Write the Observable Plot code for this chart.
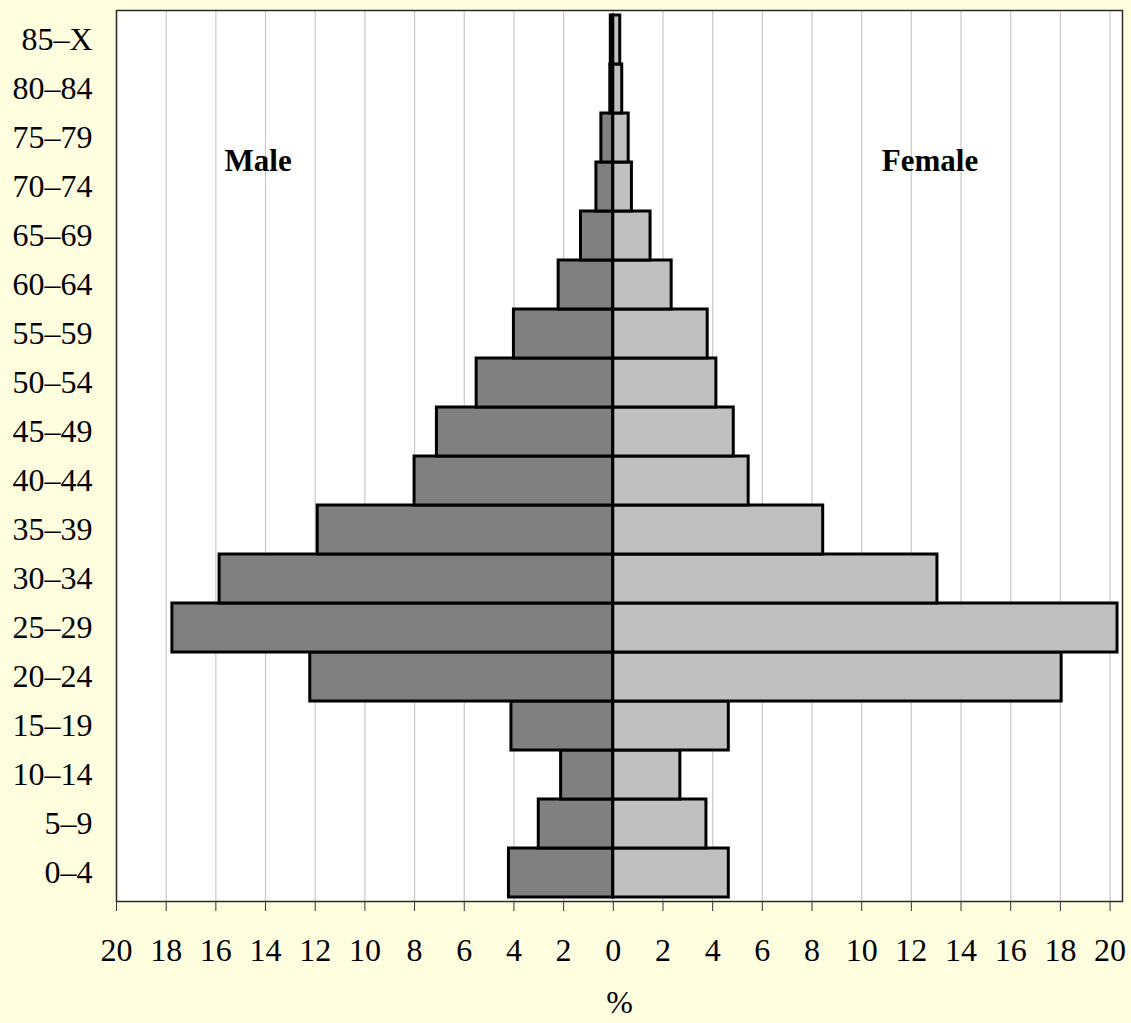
<!DOCTYPE html>
<html><head><meta charset="utf-8">
<script src="https://cdn.jsdelivr.net/npm/d3@7"></script>
<script src="https://cdn.jsdelivr.net/npm/@observablehq/plot@0.6"></script>
<style>html,body{margin:0;padding:0;background:#FFFFE0;}</style>
</head><body><div id="chart"></div>
<script>
const ageGroups = ["0–4","5–9","10–14","15–19","20–24","25–29","30–34","35–39","40–44","45–49","50–54","55–59","60–64","65–69","70–74","75–79","80–84","85–X"];
const male   = [4.2, 3.0, 2.1, 4.1, 12.2, 17.75, 15.85, 11.9, 8.0, 7.1, 5.5, 4.0, 2.2, 1.3, 0.68, 0.48, 0.12, 0.1];
const female = [4.65, 3.75, 2.7, 4.65, 18.05, 20.3, 13.05, 8.45, 5.45, 4.85, 4.15, 3.8, 2.35, 1.5, 0.75, 0.62, 0.36, 0.28];
const xTicks = d3.range(-20, 21, 2);
const sexes = ["Male", "Female"];
const sexColors = ["#808080", "#C0C0C0"];

const data = ageGroups.flatMap((a, i) => [
  {age: a, sex: "Male", value: -male[i]},
  {age: a, sex: "Female", value: female[i]}
]);

const chart = Plot.plot({
  width: 1131, height: 1023,
  marginLeft: 116, marginRight: 9, marginTop: 10, marginBottom: 122,
  style: {background: "#FFFFE0", fontFamily: "'Liberation Serif', 'Times New Roman', serif", fontSize: "32px", color: "black"},
  x: {domain: [-20, 20.5], label: null},
  y: {domain: ageGroups.slice().reverse(), padding: 0, label: null},
  color: {domain: sexes, range: sexColors},
  marks: [
    Plot.frame({fill: "white", stroke: null}),
    Plot.gridX(xTicks, {stroke: "#c8c8c8", strokeOpacity: 1, strokeWidth: 1.2}),
    Plot.barX(data, {y: "age", x1: 0, x2: "value", fill: "sex", stroke: "black", strokeWidth: 3}),
    Plot.frame({stroke: "#2a2a2a", strokeWidth: 1.5}),
    Plot.axisX(xTicks, {tickSize: 10, tickPadding: 27, stroke: "#333", tickFormat: d => Math.abs(d), fontSize: 32, label: null}),
    Plot.axisY({tickSize: 0, tickPadding: 24, fontSize: 32, label: null}),
    Plot.text(["Male"], {x: -14.3, y: () => "75–79", dy: 23, fontWeight: "bold", fontSize: 31, letterSpacing: -1}),
    Plot.text(["Female"], {x: 12.75, y: () => "75–79", dy: 23, fontWeight: "bold", fontSize: 31, letterSpacing: -1}),
    Plot.text(["%"], {x: 0.25, frameAnchor: "bottom", dy: 111, fontSize: 32})
  ]
});
document.getElementById("chart").appendChild(chart);
</script>
</body></html>
